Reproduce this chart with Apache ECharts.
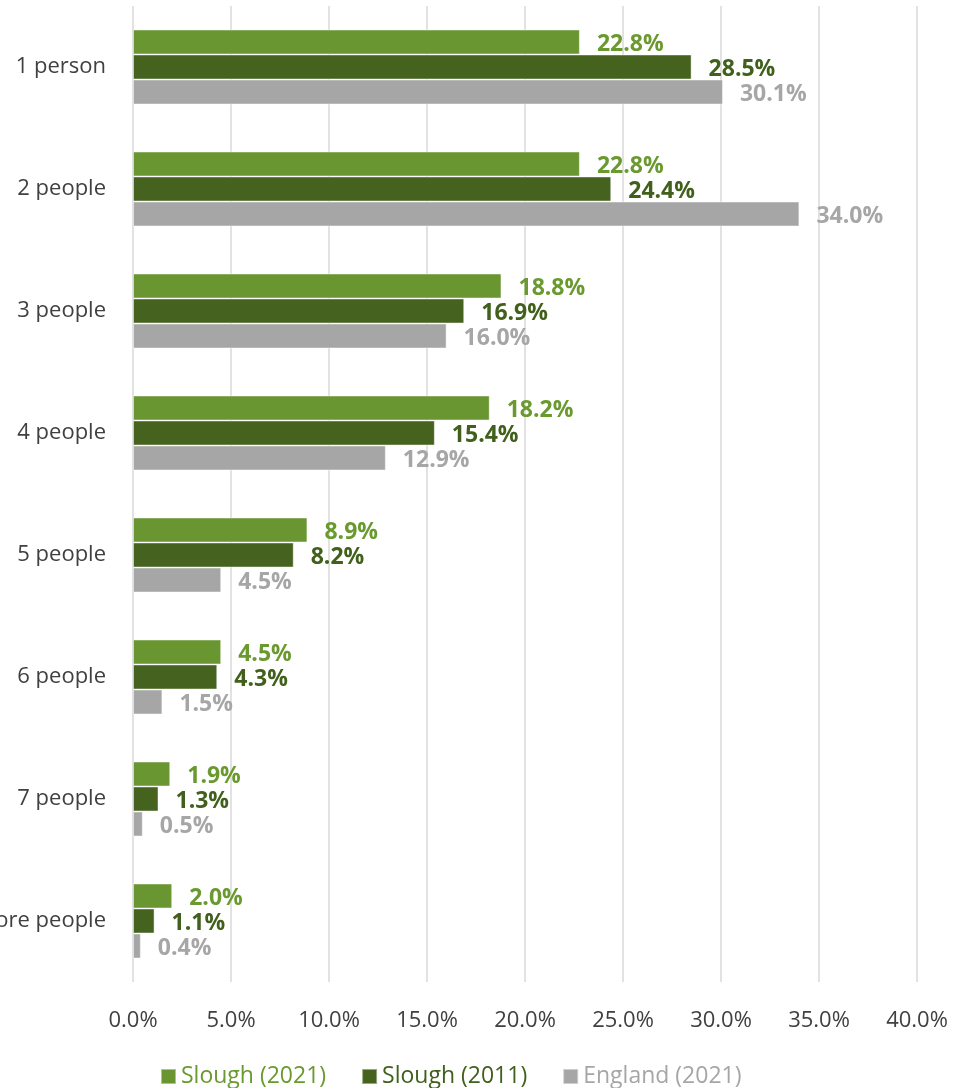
<!DOCTYPE html>
<html><head><meta charset="utf-8">
<script src="https://cdn.jsdelivr.net/npm/echarts@6/dist/echarts.min.js"></script>
<style>html,body{margin:0;padding:0;background:#fff;}#c{width:953px;height:1088px;}</style>
</head><body><div id="c"></div>
<script>
const categories = ['1 person','2 people','3 people','4 people','5 people','6 people','7 people','8 or more people'];
const slough2021 = [22.8, 22.8, 18.8, 18.2, 8.9, 4.5, 1.9, 2.0];
const slough2011 = [28.5, 24.4, 16.9, 15.4, 8.2, 4.3, 1.3, 1.1];
const england2021 = [30.1, 34.0, 16.0, 12.9, 4.5, 1.5, 0.5, 0.4];
const seriesNames = ['Slough (2021)', 'Slough (2011)', 'England (2021)'];
const colors = ['#6a9632', '#46621f', '#a6a6a6'];
const labelColors = ['#6a9a2f', '#40601c', '#a6a6a6'];
const font = '"Open Sans", "Noto Sans", sans-serif';

const chart = echarts.init(document.getElementById('c'));
const mk = (name, data, i) => ({
  name, type: 'bar', data,
  barGap: '0%', barCategoryGap: '38.5%',
  itemStyle: { color: colors[i], borderColor: 'rgba(255,255,255,0.45)', borderWidth: 1 },
  label: { show: true, position: 'right', distance: 17, offset: [0, 2], color: labelColors[i],
    fontFamily: font, fontWeight: 'bold', fontSize: 23,
    formatter: p => p.value.toFixed(1) + '%' },
  emphasis: { disabled: true }, animation: false
});
chart.setOption({
  animation: false,
  color: colors,
  grid: { left: 133, right: 36, top: 6, bottom: 106, containLabel: false, outerBoundsMode: 'none' },
  xAxis: { type: 'value', min: 0, max: 40, interval: 5,
    axisLine: { show: false }, axisTick: { show: false },
    splitLine: { lineStyle: { color: '#d9d9d9', width: 1.5 } },
    axisLabel: { margin: 28, color: '#404040', fontSize: 22, fontFamily: font,
      formatter: v => v.toFixed(1) + '%' } },
  yAxis: { type: 'category', data: categories, inverse: true,
    axisLine: { show: false }, axisTick: { show: false },
    axisLabel: { margin: 27, color: '#404040', fontSize: 22, fontFamily: font, padding: [5, 0, 0, 0] } },
  legend: { top: 1060, left: 155, itemWidth: 15, itemHeight: 15, itemGap: 35,
    icon: 'rect',
    data: seriesNames.map((n, i) => ({ name: n, textStyle: { color: labelColors[i] } })),
    textStyle: { fontSize: 23, fontFamily: font } },
  series: [mk(seriesNames[0], slough2021, 0), mk(seriesNames[1], slough2011, 1), mk(seriesNames[2], england2021, 2)]
});
</script></body></html>
